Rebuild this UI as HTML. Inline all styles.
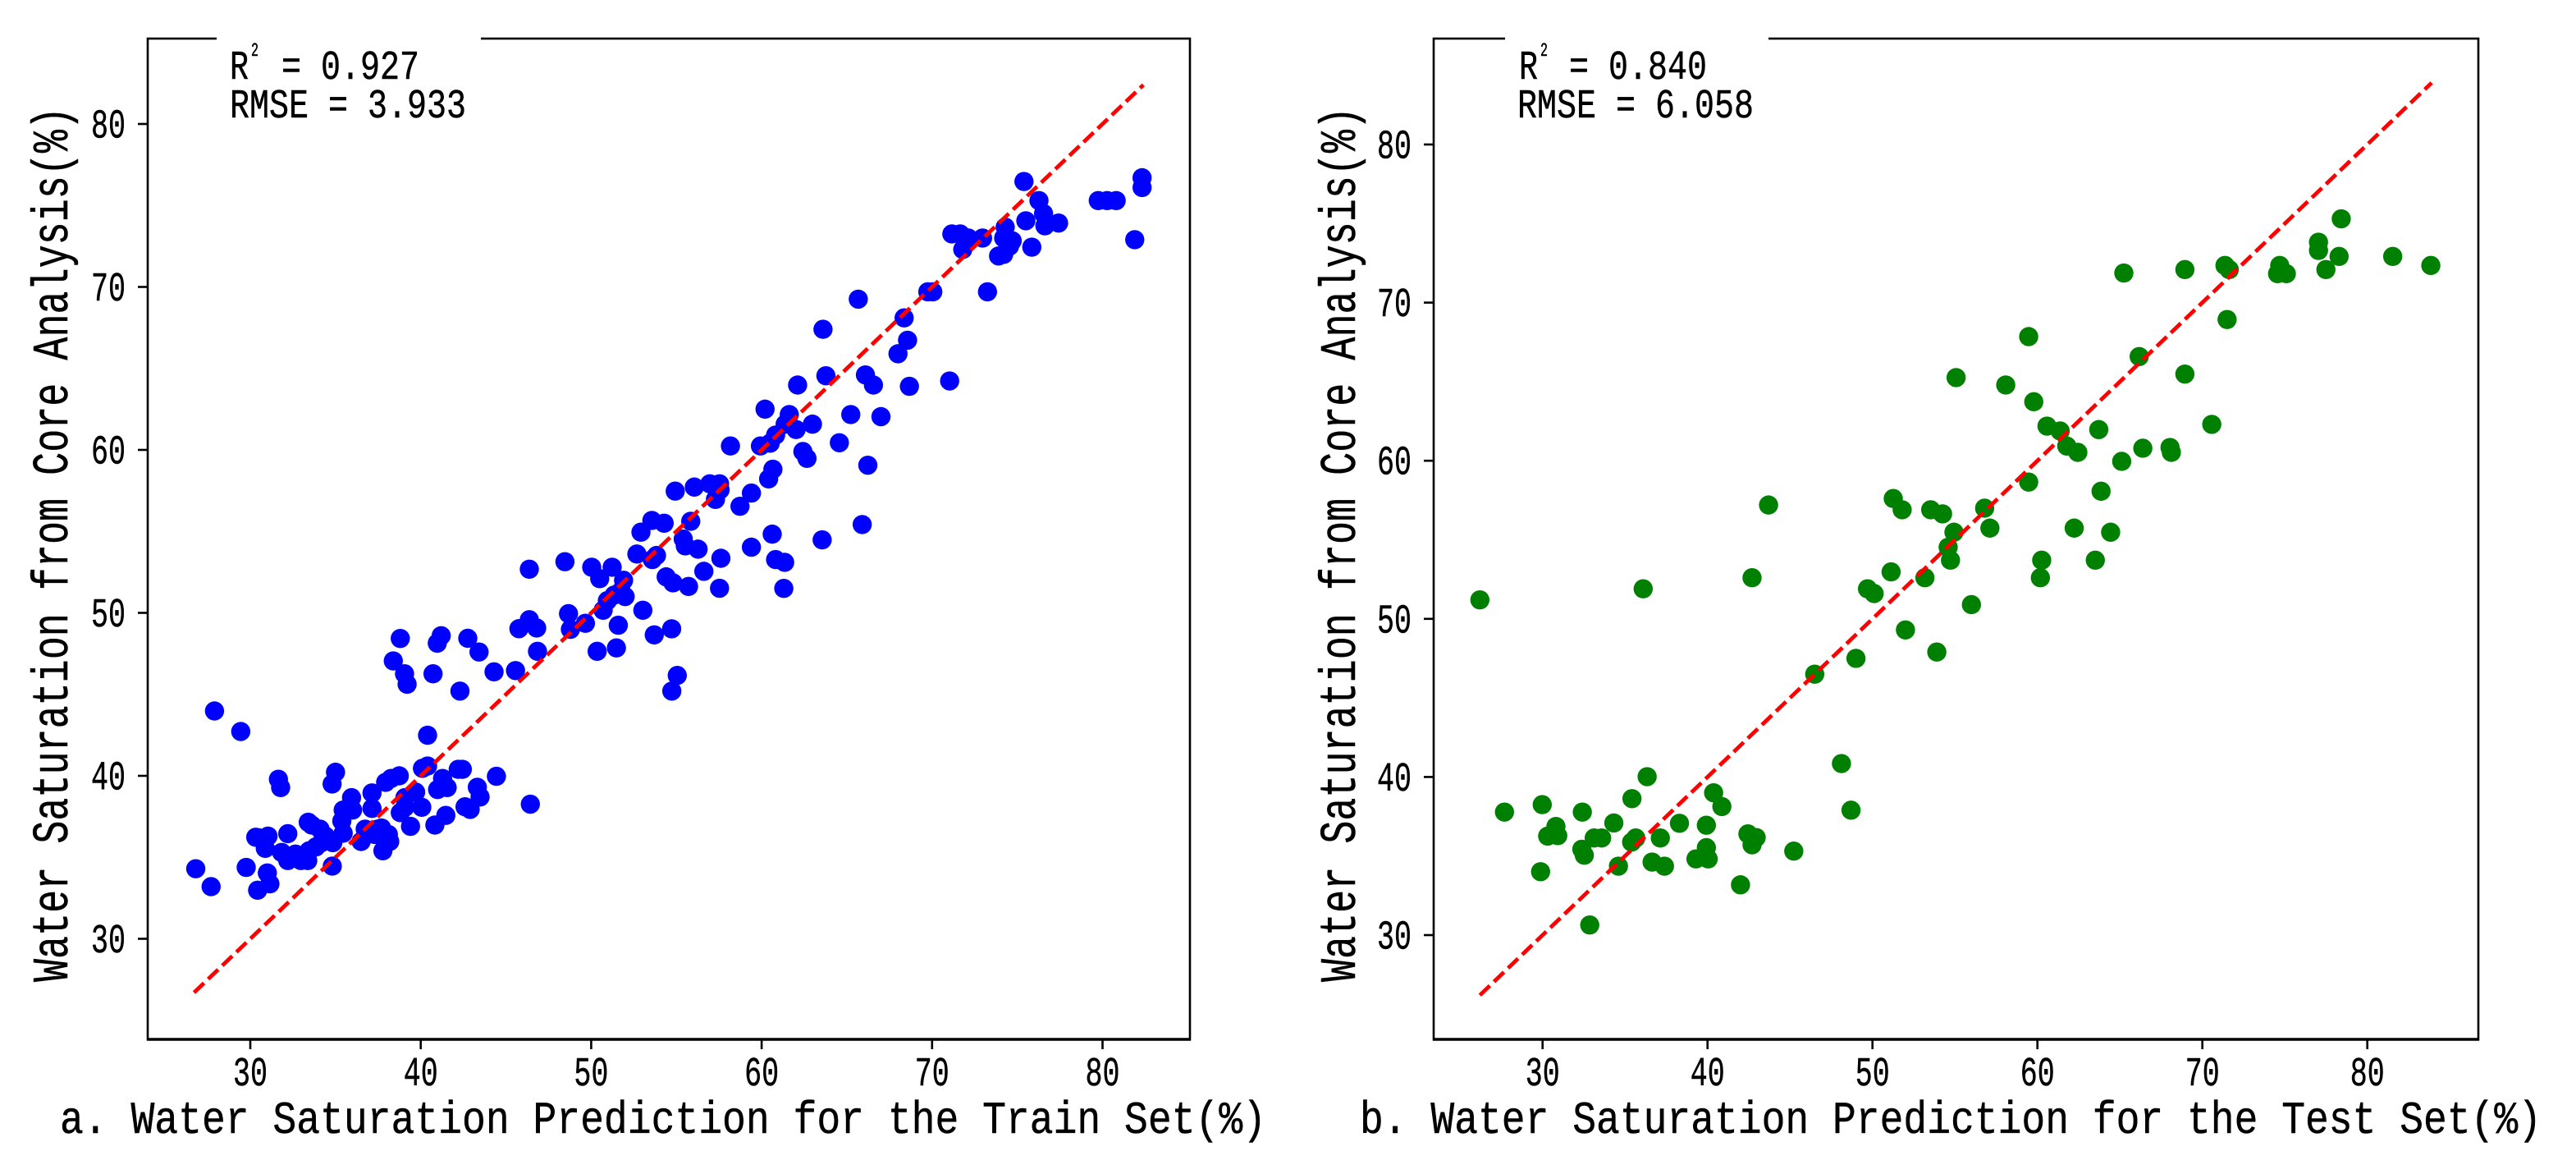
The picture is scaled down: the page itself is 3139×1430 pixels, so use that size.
<!DOCTYPE html>
<html lang="en">
<head>
<meta charset="utf-8">
<title>Water Saturation Prediction</title>
<style>
html,body{margin:0;padding:0;background:#fff;}
svg{display:block;}
text{font-family:"Liberation Mono","Noto Sans CJK SC",monospace;fill:#000;stroke:#000;stroke-width:0.5px;}
</style>
</head>
<body>
<svg id="chart" xmlns="http://www.w3.org/2000/svg" width="3139" height="1430" viewBox="0 0 3139 1430">
  <rect x="0" y="0" width="3139" height="1430" fill="#fff"/>

  <g id="panel-a">
    <rect x="180" y="47" width="1270" height="1219" fill="#fff" stroke="#000" stroke-width="2.6"/>
    <line x1="179" y1="1266" x2="1451" y2="1266" stroke="#000" stroke-width="3.6"/>
    <g id="a-ticks"></g>
    <g id="a-dots"></g>
    <line id="a-ref" stroke="#f00" stroke-width="4.8" stroke-dasharray="16.8 7"/>
    <rect x="264" y="42" width="322" height="112" fill="#fff"/>
    <text x="280" y="96" font-size="50" textLength="23" lengthAdjust="spacingAndGlyphs">R</text>
    <text x="306" y="68" font-size="23" textLength="9" lengthAdjust="spacingAndGlyphs">2</text>
    <text x="343" y="96" font-size="50" textLength="168" lengthAdjust="spacingAndGlyphs">= 0.927</text>
    <text x="280" y="143" font-size="50" textLength="288" lengthAdjust="spacingAndGlyphs">RMSE = 3.933</text>
    <text x="73" y="1380" font-size="56" textLength="1470" lengthAdjust="spacingAndGlyphs">a. Water Saturation Prediction for the Train Set(%)</text>
    <text transform="translate(82,1196) rotate(-90)" x="0" y="0" font-size="62" textLength="1066" lengthAdjust="spacingAndGlyphs">Water Saturation from Core Analysis(%)</text>
  </g>

  <g id="panel-b">
    <rect x="1747" y="47" width="1273" height="1219" fill="#fff" stroke="#000" stroke-width="2.6"/>
    <line x1="1746" y1="1266" x2="3021" y2="1266" stroke="#000" stroke-width="3.6"/>
    <g id="b-ticks"></g>
    <g id="b-dots"></g>
    <line id="b-ref" stroke="#f00" stroke-width="4.8" stroke-dasharray="16.8 7"/>
    <rect x="1834" y="42" width="321" height="112" fill="#fff"/>
    <text x="1851" y="96" font-size="50" textLength="23" lengthAdjust="spacingAndGlyphs">R</text>
    <text x="1877" y="68" font-size="23" textLength="9" lengthAdjust="spacingAndGlyphs">2</text>
    <text x="1912" y="96" font-size="50" textLength="168" lengthAdjust="spacingAndGlyphs">= 0.840</text>
    <text x="1849" y="143" font-size="50" textLength="288" lengthAdjust="spacingAndGlyphs">RMSE = 6.058</text>
    <text x="1657" y="1380" font-size="56" textLength="1440" lengthAdjust="spacingAndGlyphs">b. Water Saturation Prediction for the Test Set(%)</text>
    <text transform="translate(1651,1196) rotate(-90)" x="0" y="0" font-size="62" textLength="1066" lengthAdjust="spacingAndGlyphs">Water Saturation from Core Analysis(%)</text>
  </g>
</svg>
<script>
const trainPredicted = [
26.8,27.7,27.9,29.44,31.65,31.78,35.0,34.8,40.4,42.3,
44.44,46.43,29.76,31.0,31.15,30.43,34.81,30.32,31.04,30.88,
30.48,32.2,31.84,32.2,32.97,33.37,32.65,33.45,33.85,34.17,
33.4,33.6,34.09,34.41,34.84,35.45,35.37,35.53,35.45,35.94,
36.0,37.14,37.14,36.5,36.74,37.46,37.7,38.1,38.18,37.78,
37.3,37.94,38.26,38.74,39.07,39.7,38.8,39.4,40.06,40.1,
40.4,41.28,40.99,41.55,42.2,42.44,43.32,43.48,42.6,42.9,
41.47,40.83,39.07,38.8,41.2,40.97,42.76,43.42,38.39,39.05,
39.2,40.72,44.3,45.56,46.85,46.37,45.76,46.8,46.37,48.46,
50.03,51.23,50.5,51.9,51.75,51.99,51.35,50.95,50.7,53.03,
48.67,48.78,49.66,51.59,50.35,51.48,53.7,54.72,55.05,54.73,
52.68,53.59,53.83,52.92,53.56,54.28,55.84,55.4,55.52,56.27,
54.4,54.8,55.71,57.53,56.61,57.61,59.4,60.62,60.82,61.35,
61.3,63.55,65.9,66.23,62.66,62.42,64.56,62.98,65.23,67.0,
60.2,61.62,62.02,61.38,60.82,60.5,59.93,58.17,60.66,60.41,
59.4,58.73,54.93,56.05,56.96,57.53,57.56,57.29,62.11,63.77,
66.09,66.56,68.67,71.03,68.0,68.56,68.36,63.6,65.67,69.75,
70.04,73.25,71.8,71.16,71.65,72.13,72.96,73.9,74.2,74.54,
74.7,74.2,74.29,75.5,75.85,76.62,76.54,76.27,75.39,77.42,
79.75,80.27,80.8,82.32,82.32,81.89
];
const trainCore = [
34.3,33.2,43.98,42.72,39.79,39.28,40.22,39.5,42.49,45.2,
39.97,38.26,34.38,34.04,33.37,32.98,34.46,36.23,36.3,35.55,
36.2,36.45,35.3,34.8,34.8,34.8,35.2,35.4,35.64,35.9,
37.15,36.98,36.73,36.3,35.9,36.48,37.23,37.74,37.9,38.66,
37.9,38.95,38.0,35.97,36.73,36.73,36.8,36.4,35.97,35.4,
36.4,39.6,39.84,40.0,38.66,39.0,37.74,36.9,38.07,40.46,
40.6,39.84,39.16,39.28,40.4,40.4,39.3,38.7,38.1,37.94,
37.57,36.98,38.07,48.43,48.6,48.14,48.44,47.6,47.05,46.26,
45.62,46.26,46.38,46.46,47.64,49.58,49.03,49.07,52.68,53.14,
52.8,52.8,52.1,52.0,51.34,51.0,51.09,50.75,50.16,50.16,
49.95,48.99,49.36,49.24,47.64,47.85,48.65,49.02,46.16,45.2,
53.61,53.27,53.52,54.95,55.67,55.5,55.62,54.53,54.11,53.91,
52.21,51.84,51.62,51.51,52.55,53.35,54.03,54.83,53.27,53.1,
51.5,54.48,55.42,59.06,59.48,59.9,60.44,61.58,62.17,62.04,
62.5,62.17,61.25,61.58,60.91,60.41,60.24,60.24,58.81,58.22,
57.35,56.54,57.47,57.72,57.92,57.92,57.55,56.96,63.98,64.55,
64.6,63.98,63.9,64.23,65.9,66.73,68.1,67.4,69.25,69.7,
69.7,69.7,72.3,73.25,73.25,73.0,73.0,71.9,72.0,72.5,
72.83,73.0,73.67,74.06,72.44,73.75,74.5,75.3,76.47,73.92,
75.3,75.3,75.3,76.7,76.1,72.9
];
const testPredicted = [
27.69,29.98,32.41,36.34,35.42,30.81,30.31,30.92,34.32,33.13,
33.58,32.38,32.53,29.88,35.65,35.4,34.6,37.14,38.3,40.37,
40.87,39.93,39.93,39.3,40.04,36.64,37.39,42.45,42.95,42.7,
45.23,42.0,48.12,48.7,32.86,78.42,77.04,77.04,78.29,81.54,
83.85,77.49,74.69,75.09,74.56,71.37,71.63,68.94,65.24,71.5,
59.47,66.17,68.94,55.07,58.08,59.78,60.58,61.38,61.78,62.45,
63.72,70.57,66.39,68.04,68.12,65.11,59.47,63.86,51.26,51.8,
53.53,54.25,56.8,57.12,62.23,64.44,54.94,54.59,54.73,60.26,
63.51,51.13,53.18,60.18,26.2,42.7,36.1,43.7,46.5,49.0,
49.7,50.1,52.0,53.9,56.0
];
const testCore = [
37.78,38.25,37.78,40.02,38.63,36.87,36.26,36.29,37.09,36.14,
36.14,35.43,35.05,34.01,36.14,35.88,34.36,36.14,37.07,39.0,
38.13,36.95,35.53,34.82,34.82,34.62,34.36,36.4,36.17,35.71,
35.31,33.18,40.85,37.9,30.64,75.3,73.82,73.3,72.92,72.92,
72.35,72.09,72.35,71.83,71.83,72.35,72.09,72.09,71.87,68.93,
67.85,66.59,65.48,65.26,64.79,63.73,62.19,61.88,60.93,60.53,
61.97,62.3,60.79,60.84,60.53,59.96,58.65,58.07,57.61,56.9,
56.9,56.64,57.0,55.74,55.74,55.48,55.48,54.53,53.71,53.71,
53.71,52.97,52.6,52.6,51.2,52.6,51.9,57.2,46.5,47.5,
51.9,51.6,49.3,47.9,50.9
];
const trainXTicks = [30,40,50,60,70,80];
const trainYTicks = [30,40,50,60,70,80];
const testXTicks = [30,40,50,60,70,80];
const testYTicks = [30,40,50,60,70,80];
const trainRefLine = [26.7,82.4];
const testRefLine = [26.2,83.9];

const SVG_NS = 'http://www.w3.org/2000/svg';

function trainX(v){ return 305 + (v - 30) * 20.77; }
function trainY(v){ return 151 + (80 - v) * 19.85; }
function testX(v){ return 1879.7 + (v - 30) * 20.1; }
function testY(v){ return 176 + (80 - v) * 19.26; }

function drawTicks(groupId, xTicks, yTicks, sx, sy, spineX, prefix){
  const g = document.getElementById(groupId);
  xTicks.forEach(function(t){
    const mark = document.createElementNS(SVG_NS, 'line');
    
    
    mark.setAttribute('x1', sx(t));
    mark.setAttribute('x2', sx(t));
    mark.setAttribute('y1', 1266);
    mark.setAttribute('y2', 1278);
    mark.setAttribute('stroke', '#000');
    mark.setAttribute('stroke-width', 2.6);
    g.appendChild(mark);
    const lab = document.createElementNS(SVG_NS, 'text');
    
    
    lab.setAttribute('x', sx(t) - 21);
    lab.setAttribute('y', 1322);
    lab.setAttribute('font-size', 50);
    lab.setAttribute('textLength', 42);
    lab.setAttribute('lengthAdjust', 'spacingAndGlyphs');
    lab.textContent = String(t);
    g.appendChild(lab);
  });
  yTicks.forEach(function(t){
    const mark = document.createElementNS(SVG_NS, 'line');
    
    
    mark.setAttribute('x1', spineX - 12);
    mark.setAttribute('x2', spineX);
    mark.setAttribute('y1', sy(t));
    mark.setAttribute('y2', sy(t));
    mark.setAttribute('stroke', '#000');
    mark.setAttribute('stroke-width', 2.6);
    g.appendChild(mark);
    const lab = document.createElementNS(SVG_NS, 'text');
    
    
    lab.setAttribute('x', spineX - 69);
    lab.setAttribute('y', sy(t) + 16.5);
    lab.setAttribute('font-size', 50);
    lab.setAttribute('textLength', 42);
    lab.setAttribute('lengthAdjust', 'spacingAndGlyphs');
    lab.textContent = String(t);
    g.appendChild(lab);
  });
}

function drawDots(groupId, xs, ys, sx, sy, color, prefix){
  const g = document.getElementById(groupId);
  xs.forEach(function(v, i){
    const c = document.createElementNS(SVG_NS, 'circle');
    
    
    c.setAttribute('cx', sx(v));
    c.setAttribute('cy', sy(ys[i]));
    c.setAttribute('r', 11.7);
    c.setAttribute('fill', color);
    g.appendChild(c);
  });
}

function drawRef(id, range, sx, sy){
  const l = document.getElementById(id);
  l.setAttribute('x1', sx(range[0]));
  l.setAttribute('y1', sy(range[0]));
  l.setAttribute('x2', sx(range[1]));
  l.setAttribute('y2', sy(range[1]));
}

drawTicks('a-ticks', trainXTicks, trainYTicks, trainX, trainY, 180, 'train');
drawTicks('b-ticks', testXTicks, testYTicks, testX, testY, 1747, 'test');
drawDots('a-dots', trainPredicted, trainCore, trainX, trainY, '#0000ff', 'train');
drawDots('b-dots', testPredicted, testCore, testX, testY, '#008000', 'test');
drawRef('a-ref', trainRefLine, trainX, trainY);
drawRef('b-ref', testRefLine, testX, testY);
</script>
</body>
</html>
